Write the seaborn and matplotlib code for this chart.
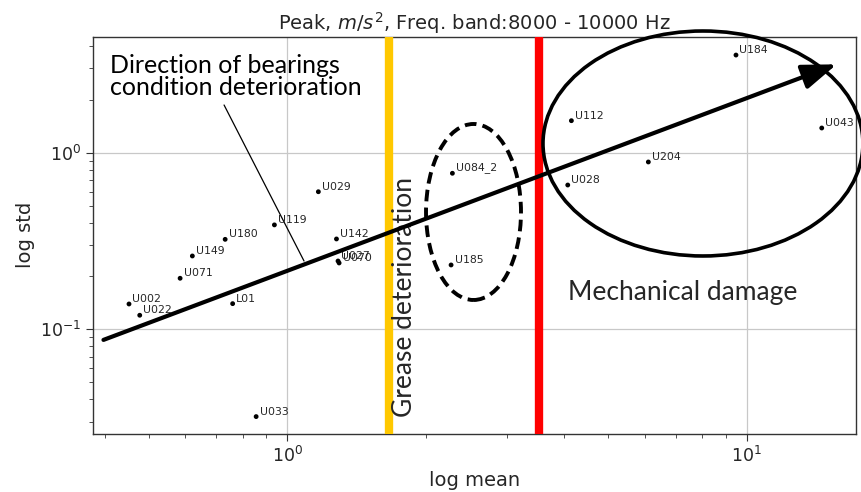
import numpy as np
import pandas as pd
import matplotlib
matplotlib.use("Agg")
import matplotlib.pyplot as plt
from matplotlib.patches import Ellipse
import seaborn as sns

# ---- data ----
labels = ["U029", "U119", "U180", "U149", "U071", "U002", "U022", "L01",
          "U142", "U027", "U070", "U033", "U084_2", "U185",
          "U184", "U112", "U043", "U204", "U028"]
log_mean = [1.168, 0.937, 0.732, 0.621, 0.584, 0.452, 0.477, 0.760,
            1.279, 1.289, 1.296, 0.855, 2.287, 2.272,
            9.478, 4.153, 14.57, 6.108, 4.078]
log_std = [0.601, 0.390, 0.323, 0.260, 0.1944, 0.139, 0.120, 0.1396,
           0.3246, 0.2435, 0.2373, 0.032, 0.7646, 0.2312,
           3.574, 1.518, 1.380, 0.886, 0.656]

grease_x = 1.665       # yellow threshold
mech_x = 3.53          # red threshold
arrow_start = (0.3977, 0.0870)
arrow_end = (15.70, 3.166)
pointer_start = (0.728, 1.863)
pointer_end = (1.087, 0.2435)

df = pd.DataFrame({"label": labels, "mean": log_mean, "std": log_std})

sns.set_style("ticks")
plt.rcParams["font.family"] = ["DejaVu Sans"]
plt.rcParams["mathtext.fontset"] = "dejavusans"

fig = plt.figure(figsize=(8.61, 4.92), dpi=100)
ax = fig.add_axes([0.1084, 0.1179, 0.8854, 0.8075])

sns.scatterplot(data=df, x="mean", y="std", ax=ax, color="black", s=12,
                edgecolor="none", zorder=5)
for _, r in df.iterrows():
    ax.annotate(r["label"], (r["mean"], r["std"]), xytext=(2.5, 0),
                textcoords="offset points", ha="left", va="bottom",
                fontsize=7.8, color="#262626", zorder=6)

ax.set_xscale("log")
ax.set_yscale("log")
ax.set_xlim(0.378, 17.27)
ax.set_ylim(0.0255, 4.54)
ax.grid(True, which="major", color="#c8c8c8", lw=0.9)
ax.grid(False, which="minor")
for s in ax.spines.values():
    s.set_color("#333333")
    s.set_linewidth(1.0)
ax.tick_params(which="both", direction="out", color="#333333", labelsize=12.5)
ax.tick_params(which="major", length=5)
ax.tick_params(which="minor", length=3)

ax.set_title(r"Peak, $m/s^2$, Freq. band:8000 - 10000 Hz", fontsize=14, pad=5)
ax.set_xlabel("log mean", fontsize=14)
ax.set_ylabel("log std", fontsize=14)

ax.axvline(grease_x, color="#FFC800", lw=6, zorder=3)
ax.axvline(mech_x, color="#FF0000", lw=6, zorder=3)

ax.annotate("", xy=arrow_end, xytext=arrow_start,
            arrowprops=dict(arrowstyle="-|>,head_length=1.05,head_width=0.38",
                            mutation_scale=20, lw=3, color="black",
                            shrinkA=0, shrinkB=0), zorder=7)
ax.plot([pointer_start[0], pointer_end[0]], [pointer_start[1], pointer_end[1]],
        color="black", lw=0.9, zorder=4)

ax.add_patch(Ellipse((0.7997, 0.7312), 0.4197, 0.5663, transform=ax.transAxes,
                     fill=False, lw=2.6, ec="black", clip_on=False, zorder=7))
ax.add_patch(Ellipse((0.4987, 0.5588), 0.1246, 0.443, transform=ax.transAxes,
                     fill=False, lw=2.8, ec="black", ls=(0, (3, 1.6)), zorder=7))

ann_font = ["Lato", "DejaVu Sans"]
ax.text(0.0219, 0.956, "Direction of bearings\ncondition deterioration",
        transform=ax.transAxes, ha="left", va="top", fontsize=18,
        family=ann_font, linespacing=0.93, color="black")
ax.text(0.4088, 0.3448, "Grease deterioration", transform=ax.transAxes,
        rotation=90, ha="center", va="center", fontsize=19, family=ann_font)
ax.text(0.7728, 0.3549, "Mechanical damage", transform=ax.transAxes,
        ha="center", va="center", fontsize=19, family=ann_font)

fig.savefig("out.png", dpi=100)
